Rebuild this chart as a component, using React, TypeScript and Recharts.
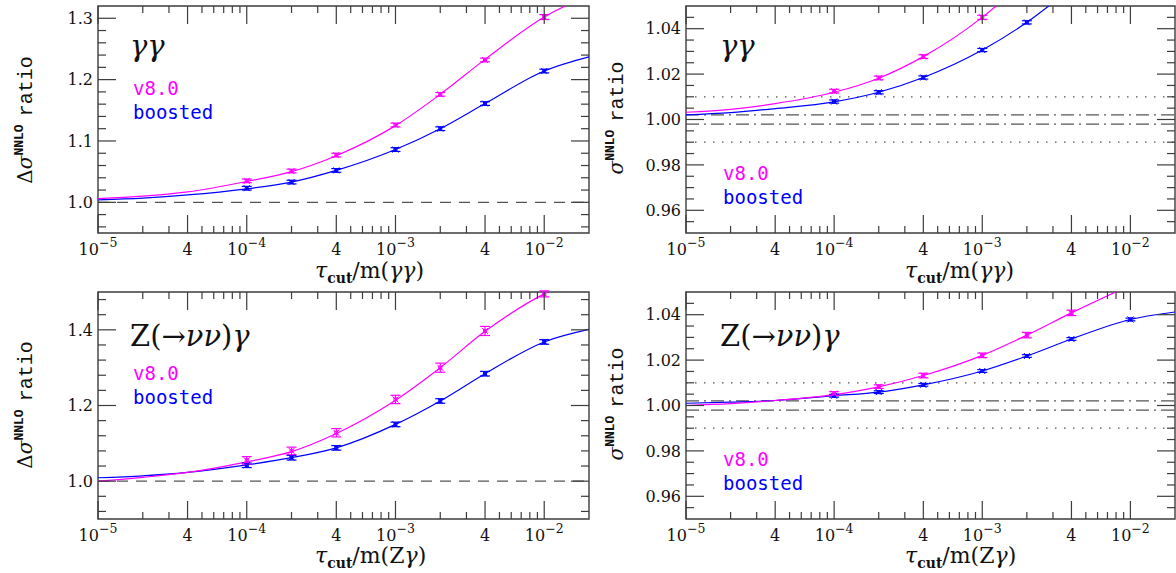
import React from 'react';
import { ComposedChart, Line, Scatter, ErrorBar, XAxis, YAxis, ReferenceLine, ReferenceArea } from 'recharts';

const TAU = [1e-4, 2e-4, 4e-4, 1e-3, 2e-3, 4e-3, 1e-2];
const CURVE_TAU = [1e-5, 2e-5, 4e-5, 1e-4, 2e-4, 4e-4, 1e-3, 2e-3, 4e-3, 1e-2, 2e-2];

// gamma gamma, NNLO coefficient ratio
const AA_DELTA_V8 = [1.035, 1.051, 1.077, 1.126, 1.176, 1.232, 1.302];
const AA_DELTA_V8_ERR = [0.003, 0.003, 0.003, 0.003, 0.003, 0.003, 0.004];
const AA_DELTA_BOOST = [1.023, 1.033, 1.052, 1.086, 1.12, 1.161, 1.214];
const AA_DELTA_BOOST_ERR = [0.003, 0.003, 0.003, 0.003, 0.003, 0.003, 0.003];
const AA_DELTA_V8_FIT = [1.006, 1.01, 1.017, 1.034, 1.05, 1.076, 1.125, 1.176, 1.233, 1.302, 1.338];
const AA_DELTA_BOOST_FIT = [1.004, 1.007, 1.012, 1.022, 1.033, 1.052, 1.086, 1.12, 1.161, 1.214, 1.237];

// gamma gamma, full NNLO ratio
const AA_SIGMA_V8 = [1.0125, 1.0183, 1.0277, 1.045];
const AA_SIGMA_V8_ERR = [0.0008, 0.0008, 0.0008, 0.0009];
const AA_SIGMA_BOOST = [1.0079, 1.012, 1.0185, 1.0306, 1.0428];
const AA_SIGMA_BOOST_ERR = [0.0007, 0.0007, 0.0007, 0.0007, 0.0007];
const AA_SIGMA_V8_FIT = [1.0032, 1.0045, 1.007, 1.012, 1.0182, 1.0277, 1.045, 1.062];
const AA_SIGMA_BOOST_FIT = [1.002, 1.003, 1.0048, 1.0078, 1.012, 1.0185, 1.0306, 1.0428, 1.058];

// Z(->nu nu) gamma, NNLO coefficient ratio
const ZA_DELTA_V8 = [1.055, 1.08, 1.128, 1.216, 1.3, 1.397, 1.495];
const ZA_DELTA_V8_ERR = [0.01, 0.01, 0.011, 0.011, 0.012, 0.012, 0.008];
const ZA_DELTA_BOOST = [1.042, 1.062, 1.088, 1.15, 1.212, 1.284, 1.368];
const ZA_DELTA_BOOST_ERR = [0.006, 0.006, 0.006, 0.006, 0.006, 0.006, 0.006];
const ZA_DELTA_V8_FIT = [1.0, 1.01, 1.023, 1.051, 1.078, 1.126, 1.214, 1.3, 1.396, 1.495, 1.545];
const ZA_DELTA_BOOST_FIT = [1.009, 1.014, 1.023, 1.043, 1.062, 1.088, 1.15, 1.212, 1.284, 1.368, 1.401];

// Z(->nu nu) gamma, full NNLO ratio
const ZA_SIGMA_V8 = [1.0053, 1.0083, 1.0132, 1.0221, 1.031, 1.0408];
const ZA_SIGMA_V8_ERR = [0.0008, 0.0008, 0.001, 0.001, 0.0012, 0.0012];
const ZA_SIGMA_BOOST = [1.0043, 1.0059, 1.0091, 1.0152, 1.0218, 1.0293, 1.0379];
const ZA_SIGMA_BOOST_ERR = [0.0006, 0.0006, 0.0006, 0.0006, 0.0006, 0.0006, 0.0006];
const ZA_SIGMA_V8_FIT = [1.0, 1.0008, 1.0022, 1.0048, 1.0082, 1.0132, 1.0221, 1.031, 1.0408, 1.053];
const ZA_SIGMA_BOOST_FIT = [1.001, 1.0015, 1.0022, 1.0043, 1.0059, 1.0091, 1.0152, 1.0218, 1.0293, 1.0379, 1.0412];

// axes
const X_DECADES = [1e-5, 1e-4, 1e-3, 1e-2];
const X_MULTS = [1, 2, 3, 4, 5, 6, 7, 8, 9];
const DELTA_AA_MAJOR = [1.0, 1.1, 1.2, 1.3];
const DELTA_AA_LABELS = ['1.0', '1.1', '1.2', '1.3'];
const DELTA_ZA_MAJOR = [1.0, 1.2, 1.4];
const DELTA_ZA_LABELS = ['1.0', '1.2', '1.4'];
const SIGMA_MAJOR = [0.96, 0.98, 1.0, 1.02, 1.04];
const SIGMA_LABELS = ['0.96', '0.98', '1.00', '1.02', '1.04'];
const SIGMA_DOTTED = [0.99, 1.01];
const SIGMA_DASHDOT = [0.998, 1.002];

const FRAME = '#3c3c3c';
const REFC = '#555';
const MAGENTA = '#ff00ff';
const BLUE = '#0000ff';
const TICK_FONT = '"DejaVu Serif", serif';
const AXIS_W = 60;
const AXIS_H = 40;

const xTicks: number[] = [];
X_DECADES.forEach((d) => X_MULTS.forEach((m) => { if (m * d < 0.0199) xTicks.push(m * d); }));

const steps = (from: number, to: number, step: number) => {
  const out: number[] = [];
  for (let v = from; v <= to + 1e-9; v += step) out.push(Math.round(v * 10000) / 10000);
  return out;
};

const pts = (vals: number[], errs: number[]) => vals.map((y, i) => ({ x: TAU[i], y, err: errs[i] }));
const fit = (vals: number[]) => vals.map((y, i) => ({ x: CURVE_TAU[i], y }));

const makeXTick = (plotH: number) => (props: any) => {
  const { x, y, payload } = props;
  const v = payload.value as number;
  const e = Math.floor(Math.log10(v) + 1e-9);
  const m = Math.round(v / Math.pow(10, e));
  const len = m === 1 || m === 4 ? 18 : 7;
  return (
    <g>
      <line x1={x} x2={x} y1={y} y2={y - len} stroke={FRAME} strokeWidth={1.2} />
      <line x1={x} x2={x} y1={y - plotH} y2={y - plotH + len} stroke={FRAME} strokeWidth={1.2} />
      {m === 1 && (
        <text x={x} y={y + 22} textAnchor="middle" fontFamily={TICK_FONT} fontSize={16} fill="#111">
          <tspan>10</tspan>
          <tspan dy={-8} fontSize={12.5}>{`\u2212${-e}`}</tspan>
        </text>
      )}
      {m === 4 && (
        <text x={x} y={y + 22} textAnchor="middle" fontFamily={TICK_FONT} fontSize={16} fill="#111">4</text>
      )}
    </g>
  );
};

const makeYTick = (plotW: number, majors: number[], labels: string[]) => (props: any) => {
  const { x, y, payload } = props;
  const i = majors.findIndex((m) => Math.abs(m - payload.value) < 1e-6);
  const len = i >= 0 ? 18 : 8;
  return (
    <g>
      <line x1={x} x2={x + len} y1={y} y2={y} stroke={FRAME} strokeWidth={1.2} />
      <line x1={x + plotW} x2={x + plotW - len} y1={y} y2={y} stroke={FRAME} strokeWidth={1.2} />
      {i >= 0 && (
        <text x={x - 5} y={y} dy="0.36em" textAnchor="end" fontFamily={TICK_FONT} fontSize={16} fill="#111">
          {labels[i]}
        </text>
      )}
    </g>
  );
};

const Mark = (color: string) => (props: any) => {
  const { cx, cy } = props;
  return (
    <g stroke={color} strokeWidth={1} fill="none">
      <line x1={cx - 3} y1={cy - 3} x2={cx + 3} y2={cy + 3} />
      <line x1={cx - 3} y1={cy + 3} x2={cx + 3} y2={cy - 3} />
      <rect x={cx - 1.5} y={cy - 1.5} width={3} height={3} />
    </g>
  );
};

type PanelProps = {
  box: { left: number; top: number; width: number; height: number };
  plot: { top: number; left: number; right: number; bottom: number };
  yDomain: [number, number];
  yTicks: number[];
  majors: number[];
  labels: string[];
  sigma: boolean;
  v8: { x: number; y: number; err: number }[];
  boost: { x: number; y: number; err: number }[];
  v8Fit: { x: number; y: number }[];
  boostFit: { x: number; y: number }[];
};

const Panel: React.FC<PanelProps> = ({ box, plot, yDomain, yTicks, majors, labels, sigma, v8, boost, v8Fit, boostFit }) => {
  // plot = gap between box edges and plot area
  const plotW = box.width - plot.left - plot.right;
  const plotH = box.height - plot.top - plot.bottom;
  const margin = { top: plot.top, right: plot.right, left: plot.left - AXIS_W, bottom: plot.bottom - AXIS_H };
  return (
    <div style={{ position: 'absolute', left: box.left, top: box.top }}>
      <ComposedChart width={box.width} height={box.height} margin={margin}>
        <XAxis
          dataKey="x"
          type="number"
          scale="log"
          domain={[1e-5, 2e-2]}
          allowDataOverflow
          ticks={xTicks}
          interval={0}
          height={AXIS_H}
          tickSize={0}
          tickMargin={0}
          tickLine={false}
          axisLine={false}
          tick={makeXTick(plotH)}
        />
        <YAxis
          type="number"
          domain={yDomain}
          allowDataOverflow
          ticks={yTicks}
          interval={0}
          width={AXIS_W}
          tickSize={0}
          tickMargin={0}
          tickLine={false}
          axisLine={false}
          tick={makeYTick(plotW, majors, labels)}
        />
        <ReferenceArea x1={1e-5} x2={2e-2} y1={yDomain[0]} y2={yDomain[1]} fill="none" stroke={FRAME} strokeWidth={1.4} />
        {!sigma && <ReferenceLine y={1} stroke={REFC} strokeWidth={1.2} strokeDasharray="11 8" />}
        {sigma && SIGMA_DOTTED.map((v) => (
          <ReferenceLine key={`d${v}`} y={v} stroke={REFC} strokeWidth={1.2} strokeDasharray="1.5 7.5" />
        ))}
        {sigma && SIGMA_DASHDOT.map((v) => (
          <ReferenceLine key={`dd${v}`} y={v} stroke={REFC} strokeWidth={1.2} strokeDasharray="13 5 2 5" />
        ))}
        <Line data={boostFit} dataKey="y" type="monotone" stroke={BLUE} strokeWidth={1.2} dot={false} isAnimationActive={false} />
        <Line data={v8Fit} dataKey="y" type="monotone" stroke={MAGENTA} strokeWidth={1.2} dot={false} isAnimationActive={false} />
        <Scatter data={boost} dataKey="y" shape={Mark(BLUE)} isAnimationActive={false}>
          <ErrorBar dataKey="err" direction="y" width={5} stroke={BLUE} strokeWidth={1.2} />
        </Scatter>
        <Scatter data={v8} dataKey="y" shape={Mark(MAGENTA)} isAnimationActive={false}>
          <ErrorBar dataKey="err" direction="y" width={5} stroke={MAGENTA} strokeWidth={1.2} />
        </Scatter>
      </ComposedChart>
    </div>
  );
};

const SERIF = '"DejaVu Serif", serif';
const MONO = '"Liberation Mono", monospace';
const LEG = '"DejaVu Sans Mono", monospace';

const XLabel: React.FC<{ x: number; y: number; z: boolean }> = ({ x, y, z }) => (
  <text x={x} y={y} fontFamily={SERIF} fontSize={22} fill="#111">
    <tspan fontStyle="italic">τ</tspan>
    <tspan dy={5} fontSize={14} fontWeight="bold">cut</tspan>
    <tspan dy={-5}>/m(</tspan>
    {z ? <tspan>Z</tspan> : <tspan fontStyle="italic">γ</tspan>}
    <tspan fontStyle="italic">γ</tspan>
    <tspan>)</tspan>
  </text>
);

const YLabel: React.FC<{ x: number; y: number; delta: boolean }> = ({ x, y, delta }) => (
  <text transform={`translate(${x},${y}) rotate(-90)`} textAnchor="middle" fontSize={20} fill="#111">
    {delta && <tspan fontFamily={SERIF}>Δ</tspan>}
    <tspan fontFamily={SERIF} fontStyle="italic">σ</tspan>
    <tspan dy={-9} fontFamily={MONO} fontSize={13} fontWeight="bold">NNLO</tspan>
    <tspan dy={9} dx={8} fontFamily={MONO} fontSize={20}>ratio</tspan>
  </text>
);

const Title: React.FC<{ x: number; y: number; z: boolean }> = ({ x, y, z }) => (
  <text x={x} y={y} fontFamily={SERIF} fontSize={29} fill="#111">
    {z ? (
      <>
        <tspan>Z(→</tspan>
        <tspan fontStyle="italic">νν</tspan>
        <tspan>)</tspan>
        <tspan fontStyle="italic">γ</tspan>
      </>
    ) : (
      <tspan fontStyle="italic">γγ</tspan>
    )}
  </text>
);

const Legend: React.FC<{ x: number; y: number }> = ({ x, y }) => (
  <g fontFamily={LEG} fontSize={19}>
    <text x={x} y={y} fill={MAGENTA}>v8.0</text>
    <text x={x} y={y + 24} fill={BLUE}>boosted</text>
  </g>
);

export default function App() {
  const deltaAaTicks = steps(0.96, 1.3, 0.02);
  const deltaZaTicks = steps(0.92, 1.48, 0.04);
  const sigmaTicks = steps(0.955, 1.045, 0.005);
  return (
    <div style={{ position: 'absolute', left: 0, top: 0, width: 1176, height: 573, background: '#fff', overflow: 'hidden' }}>
      <Panel
        box={{ left: 0, top: 0, width: 590, height: 287 }}
        plot={{ top: 6, left: 98, right: 1, bottom: 54 }}
        yDomain={[0.95, 1.32]}
        yTicks={deltaAaTicks}
        majors={DELTA_AA_MAJOR}
        labels={DELTA_AA_LABELS}
        sigma={false}
        v8={pts(AA_DELTA_V8, AA_DELTA_V8_ERR)}
        boost={pts(AA_DELTA_BOOST, AA_DELTA_BOOST_ERR)}
        v8Fit={fit(AA_DELTA_V8_FIT)}
        boostFit={fit(AA_DELTA_BOOST_FIT)}
      />
      <Panel
        box={{ left: 590, top: 0, width: 586, height: 287 }}
        plot={{ top: 6, left: 96, right: 1, bottom: 54 }}
        yDomain={[0.95, 1.05]}
        yTicks={sigmaTicks}
        majors={SIGMA_MAJOR}
        labels={SIGMA_LABELS}
        sigma
        v8={pts(AA_SIGMA_V8, AA_SIGMA_V8_ERR)}
        boost={pts(AA_SIGMA_BOOST, AA_SIGMA_BOOST_ERR)}
        v8Fit={fit(AA_SIGMA_V8_FIT)}
        boostFit={fit(AA_SIGMA_BOOST_FIT)}
      />
      <Panel
        box={{ left: 0, top: 287, width: 590, height: 286 }}
        plot={{ top: 5, left: 98, right: 1, bottom: 54 }}
        yDomain={[0.9, 1.5]}
        yTicks={deltaZaTicks}
        majors={DELTA_ZA_MAJOR}
        labels={DELTA_ZA_LABELS}
        sigma={false}
        v8={pts(ZA_DELTA_V8, ZA_DELTA_V8_ERR)}
        boost={pts(ZA_DELTA_BOOST, ZA_DELTA_BOOST_ERR)}
        v8Fit={fit(ZA_DELTA_V8_FIT)}
        boostFit={fit(ZA_DELTA_BOOST_FIT)}
      />
      <Panel
        box={{ left: 590, top: 287, width: 586, height: 286 }}
        plot={{ top: 5, left: 96, right: 1, bottom: 54 }}
        yDomain={[0.95, 1.05]}
        yTicks={sigmaTicks}
        majors={SIGMA_MAJOR}
        labels={SIGMA_LABELS}
        sigma
        v8={pts(ZA_SIGMA_V8, ZA_SIGMA_V8_ERR)}
        boost={pts(ZA_SIGMA_BOOST, ZA_SIGMA_BOOST_ERR)}
        v8Fit={fit(ZA_SIGMA_V8_FIT)}
        boostFit={fit(ZA_SIGMA_BOOST_FIT)}
      />
      <svg width={1176} height={573} style={{ position: 'absolute', left: 0, top: 0, pointerEvents: 'none' }}>
        <YLabel x={32} y={120} delta />
        <YLabel x={623} y={118} delta={false} />
        <YLabel x={32} y={405} delta />
        <YLabel x={623} y={404} delta={false} />
        <XLabel x={315} y={278} z={false} />
        <XLabel x={905} y={278} z={false} />
        <XLabel x={315} y={563} z />
        <XLabel x={905} y={563} z />
        <Title x={130} y={56} z={false} />
        <Title x={720} y={56} z={false} />
        <Title x={130} y={346} z />
        <Title x={720} y={346} z />
        <Legend x={133} y={95} />
        <Legend x={723} y={180} />
        <Legend x={133} y={380} />
        <Legend x={723} y={466} />
      </svg>
    </div>
  );
}
